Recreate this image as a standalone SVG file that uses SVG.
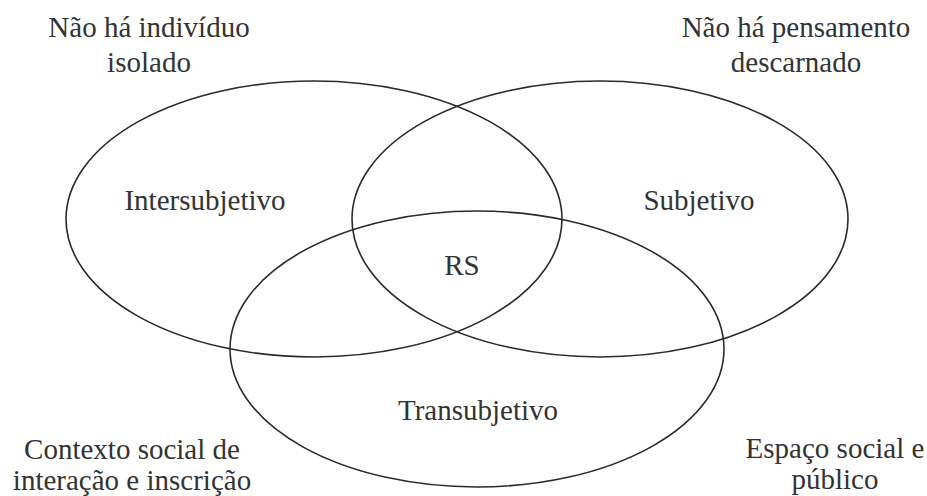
<svg xmlns="http://www.w3.org/2000/svg" width="927" height="496" viewBox="0 0 927 496">
<style>
.c{fill:none;stroke:#2a2a2a;stroke-width:1.6}
.t{font-family:"Liberation Serif","Times New Roman",serif;font-size:29px;fill:#333;text-anchor:middle}
</style>
<rect width="927" height="496" fill="#fff"/>
<g id="intersubjetivo">
<ellipse class="c" cx="314" cy="219" rx="248" ry="138"/>
<text class="t" x="205" y="210">Intersubjetivo</text>
</g>
<g id="subjetivo">
<ellipse class="c" cx="600" cy="219" rx="248" ry="138"/>
<text class="t" x="699" y="210">Subjetivo</text>
</g>
<g id="transubjetivo">
<ellipse class="c" cx="477" cy="349" rx="247" ry="138"/>
<text class="t" x="478" y="420">Transubjetivo</text>
</g>
<g id="rs">
<text class="t" x="462" y="275">RS</text>
</g>
<g id="connectors"></g>
<g id="note-tl">
<text class="t" x="149" y="37">Não há indivíduo</text>
<text class="t" x="149" y="72">isolado</text>
</g>
<g id="note-tr">
<text class="t" x="796" y="37">Não há pensamento</text>
<text class="t" x="796" y="72">descarnado</text>
</g>
<g id="note-bl">
<text class="t" x="132" y="459">Contexto social de</text>
<text class="t" x="132" y="490">interação e inscrição</text>
</g>
<g id="note-br">
<text class="t" x="835" y="458">Espaço social e</text>
<text class="t" x="835" y="489">público</text>
</g>
</svg>
